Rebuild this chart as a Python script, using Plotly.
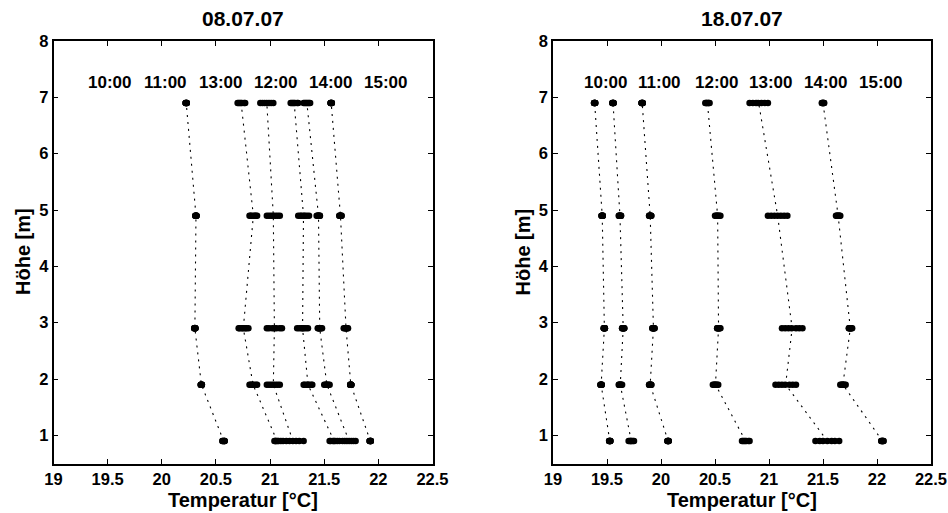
import plotly.graph_objects as go
import numpy as np

# ---------------- data ----------------
heights = [0.9, 1.9, 2.9, 4.9, 6.9]

left_title = "08.07.07"
right_title = "18.07.07"

left_times = ["10:00", "11:00", "13:00", "12:00", "14:00", "15:00"]
right_times = ["10:00", "11:00", "12:00", "13:00", "14:00", "15:00"]

# samples per height (0.9, 1.9, 2.9, 4.9, 6.9 m) -- 08.07.07
L_1000 = [[20.56, 20.56, 20.57, 20.57, 20.58, 20.58, 20.58],
          [20.36, 20.36, 20.36, 20.37, 20.37, 20.37, 20.37],
          [20.30, 20.30, 20.30, 20.31, 20.31, 20.31, 20.31],
          [20.31, 20.31, 20.31, 20.32, 20.32, 20.32, 20.32],
          [20.22, 20.22, 20.22, 20.23, 20.23, 20.23, 20.23]]
L_1100 = [[21.04, 21.05, 21.05, 21.06, 21.07, 21.08, 21.10],
          [20.81, 20.82, 20.83, 20.84, 20.85, 20.87, 20.88],
          [20.71, 20.72, 20.74, 20.75, 20.77, 20.78, 20.80],
          [20.81, 20.82, 20.83, 20.85, 20.86, 20.87, 20.88],
          [20.70, 20.71, 20.72, 20.73, 20.74, 20.76, 20.77]]
L_1300 = [[21.12, 21.15, 21.18, 21.21, 21.24, 21.27, 21.31],
          [20.97, 20.99, 21.01, 21.03, 21.05, 21.07, 21.09],
          [20.97, 20.99, 21.02, 21.04, 21.06, 21.09, 21.11],
          [20.97, 20.99, 21.01, 21.03, 21.05, 21.07, 21.09],
          [20.91, 20.93, 20.95, 20.97, 20.99, 21.01, 21.03]]
L_1200 = [[21.55, 21.56, 21.58, 21.59, 21.60, 21.62, 21.64],
          [21.31, 21.32, 21.34, 21.35, 21.36, 21.38, 21.39],
          [21.25, 21.27, 21.29, 21.30, 21.31, 21.33, 21.35],
          [21.26, 21.28, 21.29, 21.31, 21.32, 21.34, 21.36],
          [21.19, 21.20, 21.21, 21.22, 21.23, 21.25, 21.26]]
L_1400 = [[21.67, 21.69, 21.71, 21.73, 21.75, 21.77, 21.79],
          [21.50, 21.51, 21.52, 21.52, 21.53, 21.54, 21.55],
          [21.44, 21.45, 21.45, 21.46, 21.46, 21.47, 21.48],
          [21.43, 21.44, 21.44, 21.45, 21.45, 21.46, 21.46],
          [21.31, 21.32, 21.33, 21.34, 21.35, 21.36, 21.37]]
L_1500 = [[21.92, 21.92, 21.92, 21.93, 21.93, 21.93, 21.93],
          [21.74, 21.74, 21.74, 21.75, 21.75, 21.75, 21.75],
          [21.68, 21.69, 21.70, 21.70, 21.71, 21.71, 21.72],
          [21.64, 21.64, 21.65, 21.65, 21.65, 21.66, 21.66],
          [21.56, 21.56, 21.56, 21.56, 21.57, 21.57, 21.57]]

# samples per height -- 18.07.07
R_1000 = [[19.52, 19.52, 19.52, 19.53, 19.53, 19.53, 19.53],
          [19.44, 19.44, 19.44, 19.45, 19.45, 19.45, 19.45],
          [19.47, 19.47, 19.47, 19.48, 19.48, 19.48, 19.48],
          [19.45, 19.45, 19.45, 19.46, 19.46, 19.46, 19.46],
          [19.38, 19.38, 19.38, 19.39, 19.39, 19.39, 19.39]]
R_1100 = [[19.70, 19.71, 19.72, 19.72, 19.73, 19.74, 19.75],
          [19.61, 19.61, 19.62, 19.62, 19.63, 19.63, 19.64],
          [19.64, 19.64, 19.65, 19.65, 19.65, 19.66, 19.66],
          [19.61, 19.61, 19.62, 19.62, 19.62, 19.63, 19.63],
          [19.55, 19.55, 19.55, 19.56, 19.56, 19.56, 19.56]]
R_1200 = [[20.06, 20.06, 20.06, 20.07, 20.07, 20.07, 20.07],
          [19.89, 19.89, 19.90, 19.90, 19.90, 19.91, 19.91],
          [19.92, 19.92, 19.93, 19.93, 19.93, 19.94, 19.94],
          [19.89, 19.89, 19.90, 19.90, 19.90, 19.91, 19.91],
          [19.82, 19.82, 19.82, 19.83, 19.83, 19.83, 19.83]]
R_1300 = [[20.75, 20.76, 20.77, 20.78, 20.79, 20.81, 20.82],
          [20.48, 20.49, 20.50, 20.50, 20.51, 20.52, 20.53],
          [20.52, 20.52, 20.53, 20.53, 20.54, 20.54, 20.55],
          [20.50, 20.51, 20.52, 20.52, 20.53, 20.54, 20.55],
          [20.41, 20.42, 20.42, 20.43, 20.44, 20.44, 20.45]]
R_1400 = [[21.43, 21.47, 21.50, 21.54, 21.58, 21.61, 21.65],
          [21.06, 21.09, 21.12, 21.15, 21.19, 21.22, 21.25],
          [21.12, 21.15, 21.18, 21.21, 21.25, 21.28, 21.31],
          [20.99, 21.02, 21.05, 21.08, 21.11, 21.14, 21.17],
          [20.82, 20.85, 20.88, 20.90, 20.93, 20.96, 20.99]]
R_1500 = [[22.04, 22.04, 22.05, 22.05, 22.05, 22.06, 22.06],
          [21.66, 21.67, 21.68, 21.68, 21.69, 21.70, 21.71],
          [21.74, 21.74, 21.75, 21.75, 21.76, 21.76, 21.77],
          [21.62, 21.63, 21.63, 21.64, 21.65, 21.65, 21.66],
          [21.49, 21.49, 21.50, 21.50, 21.50, 21.51, 21.51]]

left_series = [L_1000, L_1100, L_1300, L_1200, L_1400, L_1500]
right_series = [R_1000, R_1100, R_1200, R_1300, R_1400, R_1500]

# label x positions (temperature axis) for time labels
left_label_x = [19.52, 20.03, 20.54, 21.05, 21.56, 22.07]
right_label_x = [19.49, 19.99, 20.51, 21.01, 21.52, 22.03]
label_y = 7.27

x_ticks = [19, 19.5, 20, 20.5, 21, 21.5, 22, 22.5]
x_tick_text = ["19", "19.5", "20", "20.5", "21", "21.5", "22", "22.5"]
y_ticks = [1, 2, 3, 4, 5, 6, 7, 8]

# ---------------- figure ----------------
W, H = 948, 513
FONT = "Liberation Sans, Arial, Helvetica, sans-serif"

fig = go.Figure()


def add_panel(series, xa, ya):
    for samples in series:
        xs, ys = [], []
        for h, vals in zip(heights, samples):
            xs.extend(vals)
            ys.extend([h] * len(vals))
        means = [float(np.mean(v)) for v in samples]
        fig.add_trace(go.Scatter(x=means, y=heights, mode="lines",
                                 line=dict(color="black", width=1.1, dash="2px,5px"),
                                 xaxis=xa, yaxis=ya, showlegend=False, hoverinfo="skip"))
        fig.add_trace(go.Scatter(x=xs, y=ys, mode="markers",
                                 marker=dict(color="black", size=6.5, line=dict(width=0)),
                                 xaxis=xa, yaxis=ya, showlegend=False))


add_panel(left_series, "x", "y")
add_panel(right_series, "x2", "y2")

axis_common = dict(showline=True, linecolor="black", linewidth=1.5, mirror="ticks",
                   ticks="inside", ticklen=5, tickwidth=1, tickcolor="black",
                   showgrid=False, zeroline=False, automargin=False,
                   tickfont=dict(family=FONT, size=16.5, color="black", weight="bold"))

y_top = 1 - 41 / H
y_bot = 1 - 463.5 / H
dom_left = [53.5 / W, 432.5 / W]
dom_right = [553 / W, 931 / W]

fig.update_layout(
    width=W, height=H,
    margin=dict(l=0, r=0, t=0, b=0, pad=0, autoexpand=False),
    paper_bgcolor="white", plot_bgcolor="white",
    xaxis=dict(domain=dom_left, range=[19, 22.5], tickvals=x_ticks, ticktext=x_tick_text,
               anchor="y", **axis_common),
    yaxis=dict(domain=[y_bot, y_top], range=[0.5, 8], tickvals=y_ticks, anchor="x", **axis_common),
    xaxis2=dict(domain=dom_right, range=[19, 22.5], tickvals=x_ticks, ticktext=x_tick_text,
                anchor="y2", **axis_common),
    yaxis2=dict(domain=[y_bot, y_top], range=[0.5, 8], tickvals=y_ticks, anchor="x2", **axis_common),
)

ann = []
bold = dict(family=FONT, color="black", weight="bold")
for dom, title in [(dom_left, left_title), (dom_right, right_title)]:
    cx = (dom[0] + dom[1]) / 2
    ann.append(dict(text=title, x=cx, y=1 - 19 / H, xref="paper", yref="paper",
                    xanchor="center", yanchor="middle", showarrow=False,
                    font=dict(size=21, **bold)))
    ann.append(dict(text="Temperatur [°C]", x=cx, y=1 - 500 / H, xref="paper", yref="paper",
                    xanchor="center", yanchor="middle", showarrow=False,
                    font=dict(size=20, **bold)))
    ann.append(dict(text="Höhe [m]", x=(dom[0] * W - 30.5) / W, y=1 - 252 / H,
                    xref="paper", yref="paper", textangle=-90,
                    xanchor="center", yanchor="middle", showarrow=False,
                    font=dict(size=20, **bold)))

for labels, xs, xr, yr in [(left_times, left_label_x, "x", "y"),
                           (right_times, right_label_x, "x2", "y2")]:
    for t, lx in zip(labels, xs):
        ann.append(dict(text=t, x=lx, y=label_y, xref=xr, yref=yr,
                        xanchor="center", yanchor="middle", showarrow=False,
                        font=dict(size=17, **bold)))

fig.update_layout(annotations=ann)

fig.write_html("out.html")
